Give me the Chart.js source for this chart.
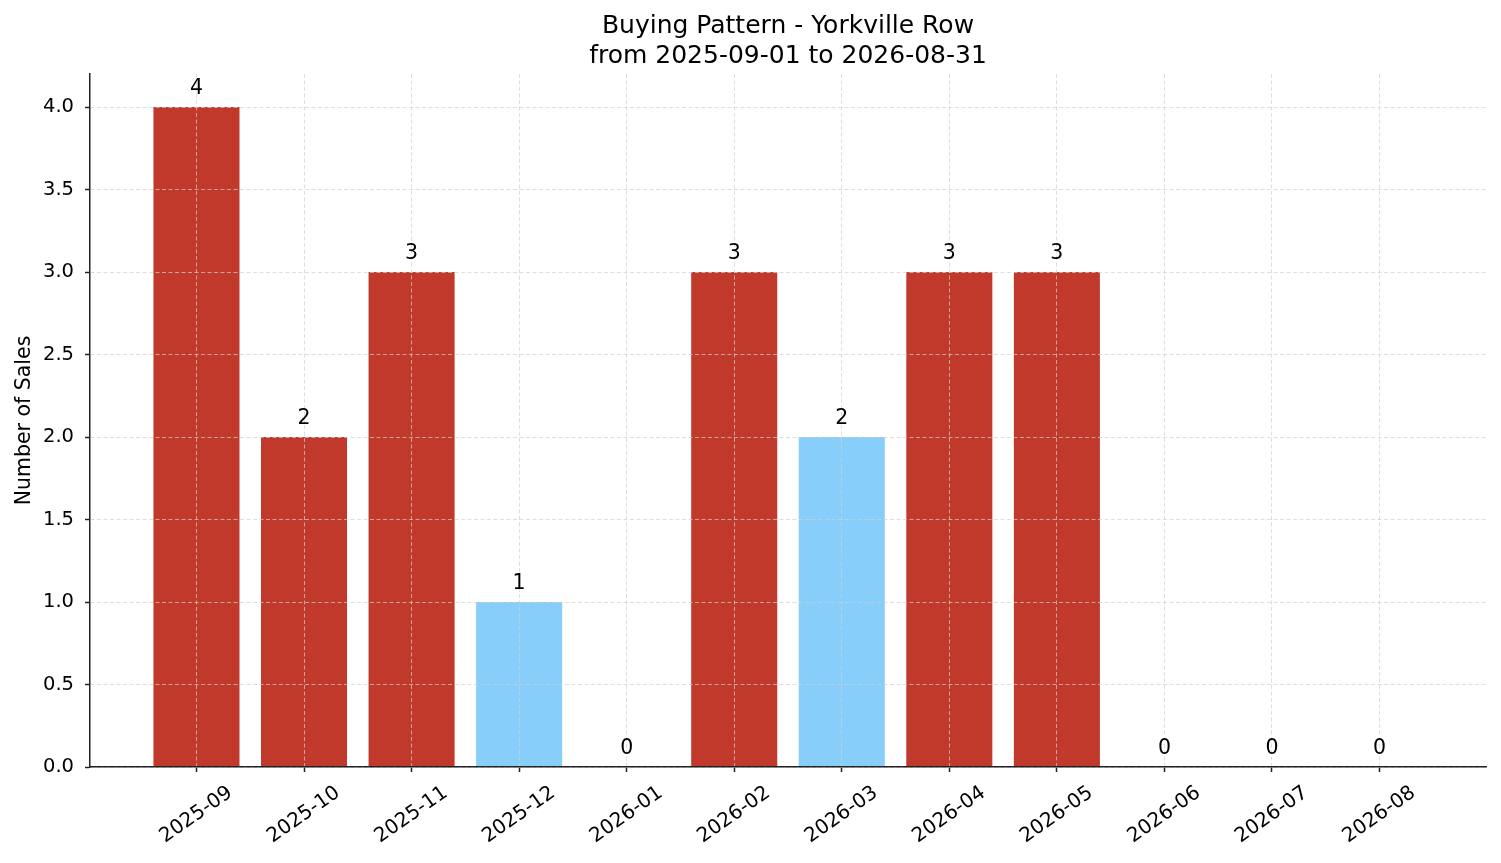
<!DOCTYPE html>
<html>
<head>
<meta charset="utf-8">
<script src="https://cdn.jsdelivr.net/npm/chart.js@4.4.1/dist/chart.umd.min.js"></script>
<style>
  html, body { margin: 0; padding: 0; background: #fff; }
  #wrap { width: 1501px; height: 863px; }
</style>
</head>
<body>
<div id="wrap"><canvas id="chart"></canvas></div>
<script>
// data
const months = ['2025-09', '2025-10', '2025-11', '2025-12', '2026-01', '2026-02',
                '2026-03', '2026-04', '2026-05', '2026-06', '2026-07', '2026-08'];
const sales = [4, 2, 3, 1, 0, 3, 2, 3, 3, 0, 0, 0];
const highlightMonths = ['2025-12', '2026-03'];
const yTicks = [0, 0.5, 1.0, 1.5, 2.0, 2.5, 3.0, 3.5, 4.0];

const FONT = '"DejaVu Sans", sans-serif';
const axisColor = '#222';
const gridColor = 'rgba(208,208,208,0.7)';

// numbers above each bar
const barValueLabels = {
    id: 'barValueLabels',
    afterDraw(chart) {
        const ctx = chart.ctx;
        const meta = chart.getDatasetMeta(0);
        ctx.save();
        ctx.font = '20.5px ' + FONT;
        ctx.fillStyle = '#000';
        ctx.textAlign = 'center';
        ctx.textBaseline = 'alphabetic';
        meta.data.forEach((bar, i) => {
            ctx.fillText(String(sales[i]), bar.x, bar.y - 13);
        });
        ctx.restore();
    }
};

const gridOpts = {
    color: gridColor,
    lineWidth: 1,
    z: 1,
    offset: false,
    drawTicks: true,
    tickLength: 5,
    tickColor: axisColor,
    tickWidth: 1.5
};
const borderOpts = { display: true, color: axisColor, width: 1.5, dash: [4, 2.5], z: 2 };

new Chart(document.getElementById('chart'), {
    type: 'bar',
    data: {
        datasets: [{
            label: 'Sales',
            data: months.map((m, i) => ({ x: i, y: sales[i] })),
            backgroundColor: months.map(m => highlightMonths.includes(m) ? '#87CEFA' : '#C0392B'),
            borderWidth: 0,
            categoryPercentage: 1.0,
            barPercentage: 0.8
        }]
    },
    options: {
        responsive: true,
        maintainAspectRatio: false,
        animation: false,
        devicePixelRatio: 1,
        layout: { padding: { top: 12, left: 12, right: 15, bottom: 0 } },
        plugins: {
            legend: { display: false },
            tooltip: { enabled: false },
            title: {
                display: true,
                fullSize: false,
                text: ['Buying Pattern - Yorkville Row', 'from 2025-09-01 to 2026-08-31'],
                color: '#000',
                font: { family: FONT, size: 25, weight: 'normal', lineHeight: 1.18 },
                padding: { top: 0, bottom: 3 }
            }
        },
        scales: {
            x: {
                type: 'linear',
                offset: false,
                min: -0.99,
                max: 11.99,
                afterBuildTicks: s => { s.ticks = months.map((m, i) => ({ value: i })); },
                afterFit: s => { s.height = 96; },
                grid: gridOpts,
                border: borderOpts,
                ticks: {
                    autoSkip: false,
                    minRotation: 35,
                    maxRotation: 35,
                    padding: 9,
                    labelOffset: 34,
                    color: '#000',
                    font: { family: FONT, size: 20 },
                    callback: v => months[v]
                }
            },
            y: {
                min: 0,
                max: 4.2,
                afterBuildTicks: s => { s.ticks = yTicks.map(v => ({ value: v })); },
                afterFit: s => { s.width = 78; },
                grid: gridOpts,
                border: borderOpts,
                ticks: {
                    padding: 11,
                    color: '#000',
                    font: { family: FONT, size: 19.5 },
                    callback: v => v.toFixed(1)
                },
                title: {
                    display: true,
                    text: 'Number of Sales',
                    color: '#000',
                    font: { family: FONT, size: 20.5, lineHeight: 1.2 },
                    padding: 0
                }
            }
        }
    },
    plugins: [barValueLabels]
});
</script>
</body>
</html>
